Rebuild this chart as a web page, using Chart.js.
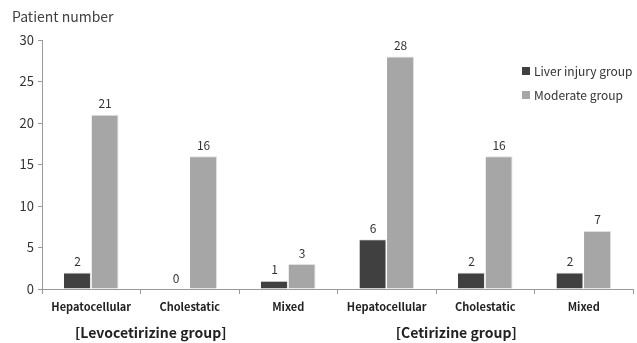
<!DOCTYPE html>
<html><head><meta charset="utf-8">
<script src="https://cdn.jsdelivr.net/npm/chart.js@4/dist/chart.umd.min.js"></script>
<style>html,body{margin:0;padding:0;background:#fff}#wrap{width:637px;height:343px}</style>
</head><body><div id="wrap"><canvas id="c"></canvas></div>
<script>
const categories = ["Hepatocellular","Cholestatic","Mixed","Hepatocellular","Cholestatic","Mixed"];
const liverInjury = [2,0,1,6,2,2];
const moderate = [21,16,3,28,16,7];
const seriesNames = ["Liver injury group","Moderate group"];
const groupLabels = ["[Levocetirizine group]","[Cetirizine group]"];
const yTitle = "Patient number";
const FONT = "'Noto Sans CJK KR','Open Sans',sans-serif";
const colors = ["#404040","#a6a6a6"];

const extras = {
  id:'extras',
  afterDatasetsDraw(chart){
    const ctx = chart.ctx, ca = chart.chartArea, xs = chart.scales.x;
    ctx.save();
    // value labels
    ctx.font = "12px " + FONT; ctx.fillStyle = "#333"; ctx.textAlign = "center"; ctx.textBaseline = "bottom";
    chart.data.datasets.forEach((ds,i)=>{
      chart.getDatasetMeta(i).data.forEach((el,j)=>{
        ctx.fillText(String(ds.data[j]), el.x, el.y - 5);
      });
    });
    // title
    ctx.font = "14px " + FONT; ctx.fillStyle = "#404040"; ctx.textAlign = "left"; ctx.textBaseline = "middle";
    ctx.fillText(yTitle, 12, 17);
    // group labels
    ctx.font = "bold 14px " + FONT; ctx.fillStyle = "#222"; ctx.textAlign = "center";
    ctx.fillText(groupLabels[0], xs.getPixelForValue(1) - 39, 333);
    ctx.fillText(groupLabels[1], xs.getPixelForValue(4) - 29, 333);
    // legend
    ctx.font = "12px " + FONT; ctx.textAlign = "left"; ctx.fillStyle = "#333";
    seriesNames.forEach((n,i)=>{
      const y = ca.top + 31 + i*24;
      ctx.fillStyle = colors[i];
      ctx.fillRect(ca.right - 111, y - 4, 8, 8);
      ctx.fillStyle = "#333";
      ctx.fillText(n, ca.right - 99, y);
    });
    ctx.restore();
  }
};

new Chart(document.getElementById('c'), {
  type:'bar',
  data:{
    labels:categories,
    datasets:[
      {label:seriesNames[0], data:liverInjury, backgroundColor:colors[0], borderColor:"#e8e8e8", borderWidth:{left:0,top:1,right:1,bottom:0}},
      {label:seriesNames[1], data:moderate, backgroundColor:colors[1], borderColor:"#e0e0e0", borderWidth:{left:0,top:1,right:1,bottom:0}}
    ]
  },
  options:{
    responsive:true, maintainAspectRatio:false, animation:false,
    layout:{padding:{top:40,right:4,left:0,bottom:0}},
    plugins:{legend:{display:false}, tooltip:{enabled:false}, title:{display:false}},
    datasets:{bar:{categoryPercentage:0.56, barPercentage:0.98}},
    scales:{
      x:{
        grid:{display:true, drawOnChartArea:false, tickLength:5, color:"#999"},
        border:{color:"#999"},
        ticks:{font:{family:FONT, size:11, weight:'bold'}, color:"#222", padding:6},
        afterFit(s){ s.height = 54; }
      },
      y:{
        min:0, max:30,
        ticks:{stepSize:5, font:{family:FONT, size:13}, color:"#333", padding:4},
        grid:{display:true, drawOnChartArea:false, tickLength:4, color:"#999"},
        border:{color:"#999"},
        afterFit(s){ s.width = 42; }
      }
    }
  },
  plugins:[extras]
});
</script>
</body></html>
